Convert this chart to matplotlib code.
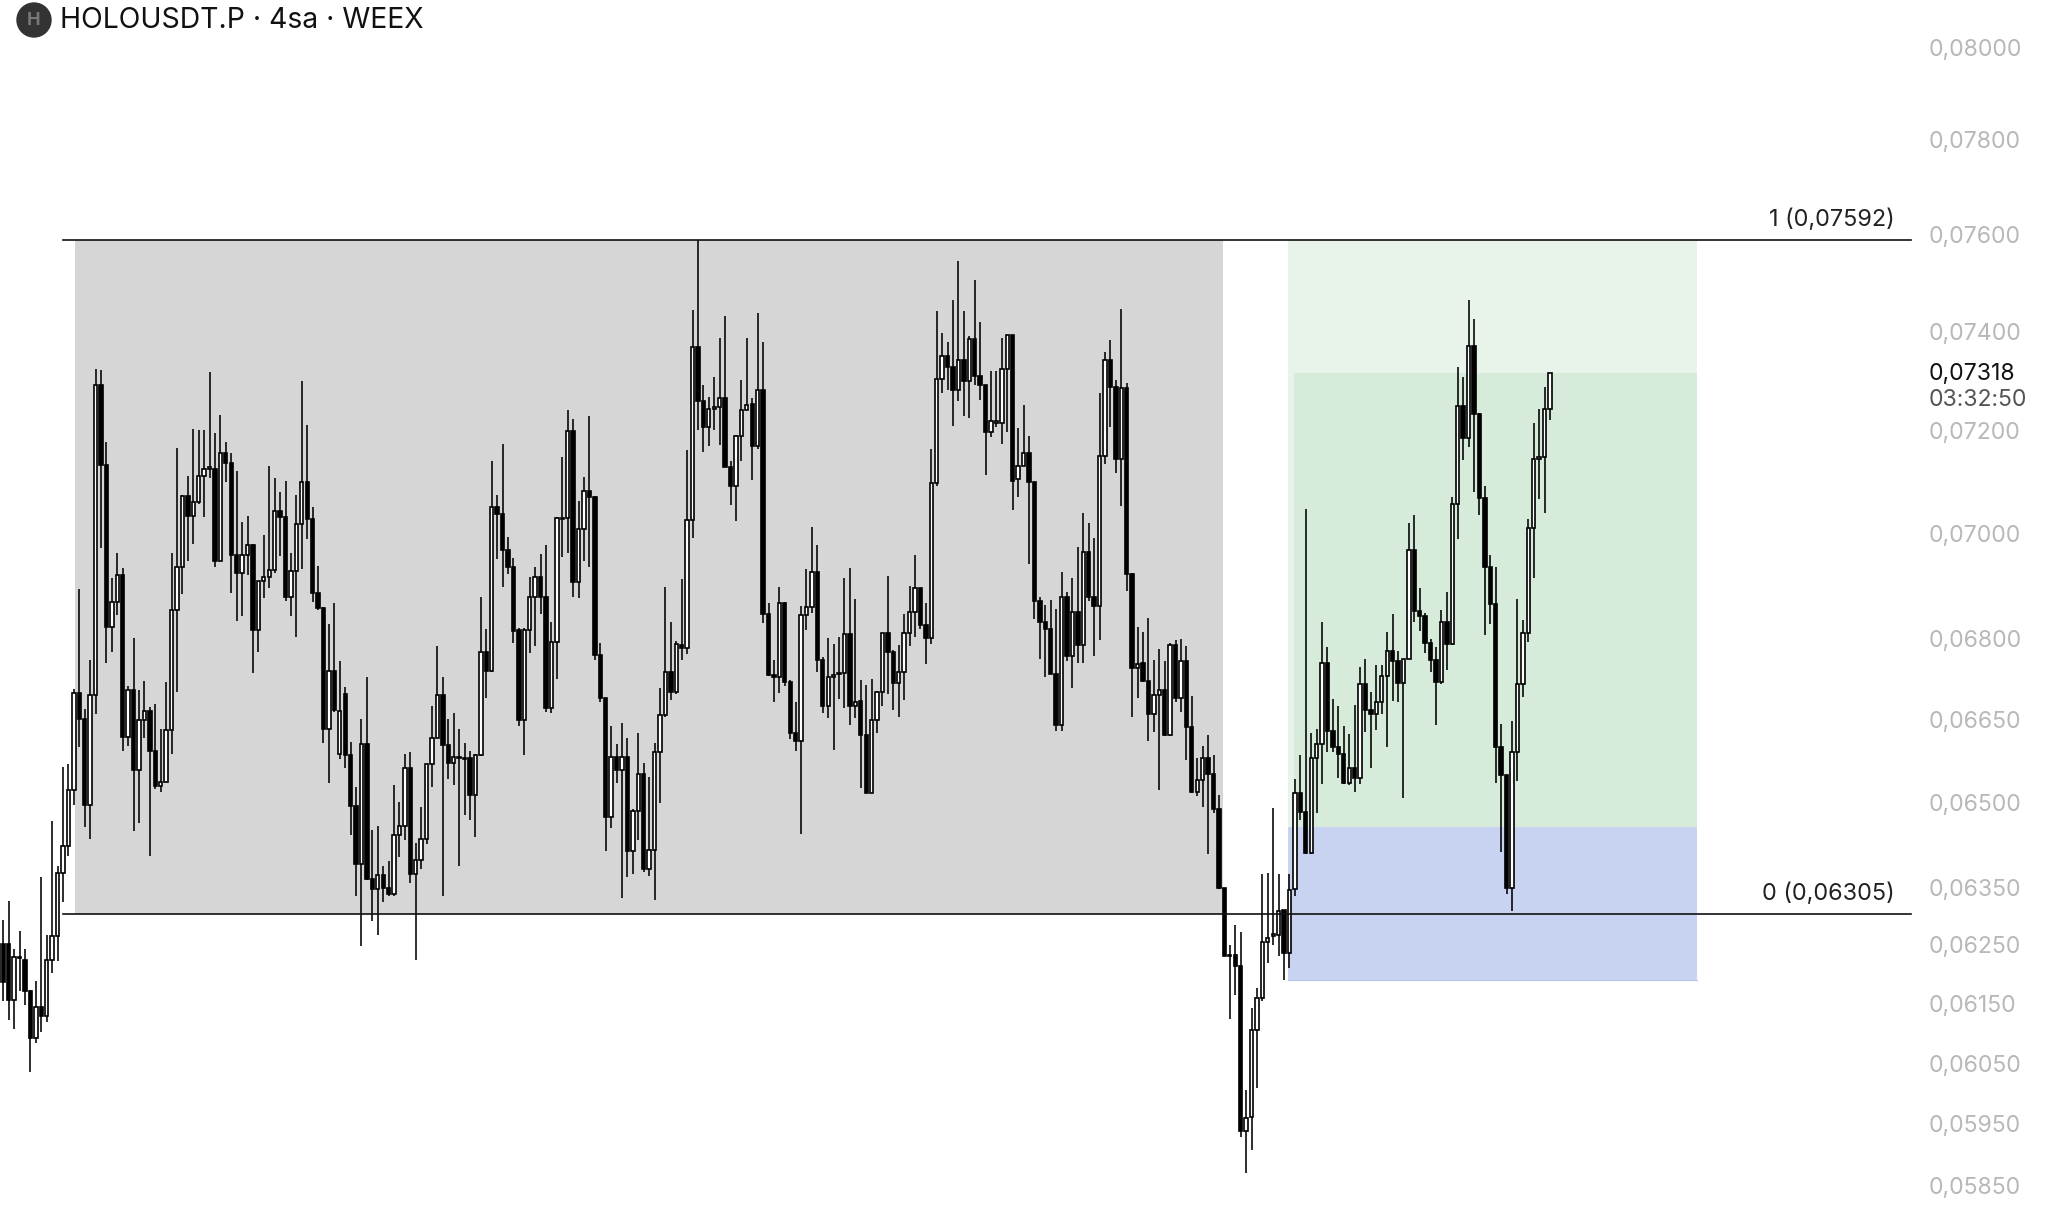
import numpy as np
import matplotlib
matplotlib.use("Agg")
import matplotlib.pyplot as plt
from matplotlib.patches import Ellipse

plt.rcParams['font.family'] = ['Inter', 'DejaVu Sans']

# prices below are in units of 0.00001
opens = [6189,
    6254, 6254, 6159, 6232, 6227, 6174, 6095, 6146, 6131, 6227,
    6268, 6377, 6425, 6524, 6701, 6654, 6498, 6697, 7295, 7136,
    6824, 6872, 6922, 6621, 6706, 6561, 6651, 6668, 6596, 6532,
    6539, 6634, 6856, 6937, 7074, 7036, 7062, 7114, 7128, 7128,
    6950, 7159, 7140, 6960, 6927, 6960, 6979, 6818, 6911, 6918,
    6932, 7046, 7034, 6880, 6931, 7021, 7101, 7030, 6889, 6860,
    6636, 6742, 6590, 6699, 6588, 6496, 6393, 6608, 6367, 6349,
    6374, 6351, 6341, 6445, 6461, 6565, 6376, 6400, 6438, 6571,
    6618, 6698, 6606, 6574, 6585, 6582, 6582, 6515, 6588, 6777,
    6742, 7053, 7040, 6970, 6937, 6819, 6651, 6819, 6881, 6919,
    6881, 6673, 6796, 7030, 7032, 7203, 6910, 7011, 7085, 7072,
    6772, 6692, 6476, 6585, 6560, 6585, 6416, 6488, 6553, 6384,
    6418, 6594, 6660, 6740, 6704, 6790, 6784, 7028, 7370, 7263,
    7210, 7247, 7250, 7268, 7131, 7095, 7192, 7245, 7256, 7172,
    7285, 6848, 6734, 6730, 6870, 6722, 6628, 6614, 6846, 6861,
    6929, 6762, 6678, 6730, 6737, 6738, 6811, 6677, 6687, 6624,
    6520, 6652, 6703, 6813, 6777, 6720, 6740, 6813, 6853, 6897,
    6828, 6803, 7100, 7306, 7353, 7330, 7285, 7344, 7303, 7387,
    7312, 7295, 7201, 7219, 7219, 7326, 7395, 7107, 7133, 7159,
    7101, 6873, 6833, 6820, 6736, 6642, 6881, 6770, 6852, 6791,
    6966, 6881, 6864, 7153, 7345, 7290, 7147, 7289, 6924, 6747,
    6756, 6724, 6662, 6698, 6707, 6625, 6791, 6692, 6760, 6638,
    6522, 6543, 6582, 6553, 6490, 6351, 6235, 6235, 6217, 5940,
    5964, 6107, 6162, 6257, 6268, 6269, 6313, 6238, 6349, 6520,
    6485, 6412, 6583, 6608, 6757, 6631, 6602, 6589, 6538, 6564,
    6546, 6718, 6670, 6662, 6685, 6733, 6780, 6761, 6720, 6765,
    6970, 6855, 6844, 6795, 6763, 6722, 6834, 6793, 7060, 7252,
    7189, 7373, 7236, 7071, 6937, 6867, 6603, 6552, 6351, 6593,
    6718, 6812, 7012, 7148, 7150, 7247]

highs = [6354,
    6295, 6329, 6246, 6276, 6246, 6176, 6191, 6371, 6270, 6470,
    6390, 6566, 6572, 6708, 6895, 6671, 6763, 7326, 7324, 7181,
    6917, 6964, 6936, 6715, 6804, 6706, 6724, 6675, 6681, 6636,
    6721, 6964, 7169, 7076, 7114, 7207, 7204, 7204, 7321, 7199,
    7234, 7180, 7159, 7124, 7025, 7036, 6981, 6911, 6999, 7133,
    7109, 7082, 7103, 6964, 7077, 7302, 7214, 7053, 6939, 6862,
    6830, 6870, 6760, 6712, 6611, 6530, 6654, 6731, 6454, 6461,
    6390, 6398, 6534, 6503, 6589, 6594, 6430, 6494, 6571, 6677,
    6788, 6730, 6654, 6665, 6635, 6609, 6596, 6590, 6881, 6820,
    7144, 7076, 7176, 6996, 6954, 6823, 6823, 6919, 6937, 6962,
    6980, 6833, 7034, 7150, 7245, 7227, 7065, 7111, 7233, 7075,
    6795, 6692, 6641, 6607, 6647, 6619, 6490, 6628, 6573, 6549,
    6609, 6710, 6900, 6833, 6798, 6914, 7164, 7447, 7590, 7295,
    7270, 7310, 7389, 7433, 7144, 7194, 7305, 7390, 7268, 7441,
    7380, 6870, 6763, 6900, 6871, 6726, 6685, 6863, 6934, 7015,
    6980, 6768, 6803, 6792, 6806, 6916, 6935, 6876, 6726, 6716,
    6728, 6705, 6813, 6921, 6781, 6791, 6848, 6901, 6961, 6897,
    6870, 7167, 7444, 7400, 7380, 7466, 7548, 7444, 7393, 7507,
    7422, 7295, 7323, 7323, 7390, 7395, 7395, 7209, 7254, 7193,
    7101, 6881, 6866, 6875, 6858, 6929, 6891, 6916, 6976, 7041,
    7022, 6994, 7278, 7361, 7385, 7305, 7448, 7299, 6927, 6825,
    6814, 6841, 6763, 6783, 6760, 6795, 6800, 6802, 6789, 6696,
    6583, 6604, 6625, 6588, 6515, 6351, 6253, 6287, 6274, 6007,
    6144, 6179, 6375, 6377, 6492, 6375, 6313, 6375, 6545, 6588,
    7050, 6628, 6635, 6834, 6787, 6691, 6677, 6641, 6626, 6680,
    6749, 6765, 6703, 6754, 6753, 6815, 6848, 6779, 6765, 7022,
    7038, 6897, 6850, 6801, 6787, 6856, 6891, 7073, 7330, 7311,
    7467, 7428, 7238, 7095, 6961, 6937, 6644, 6552, 6650, 6876,
    6838, 7030, 7219, 7247, 7291, 7318]

lows = [6150,
    6156, 6125, 6109, 6174, 6150, 6037, 6086, 6105, 6121, 6205,
    6224, 6326, 6408, 6497, 6603, 6458, 6438, 6662, 6975, 6756,
    6778, 6847, 6595, 6605, 6452, 6465, 6618, 6407, 6526, 6521,
    6539, 6590, 6703, 6886, 6950, 6982, 7060, 7034, 7110, 6937,
    6950, 7102, 6889, 6836, 6845, 6923, 6738, 6777, 6878, 6897,
    6926, 6959, 6874, 6845, 6806, 6934, 6991, 6872, 6856, 6610,
    6537, 6667, 6580, 6565, 6445, 6337, 6250, 6365, 6293, 6270,
    6327, 6338, 6338, 6406, 6436, 6360, 6227, 6384, 6428, 6531,
    6618, 6337, 6545, 6534, 6389, 6480, 6472, 6441, 6587, 6692,
    6740, 6953, 6900, 6925, 6794, 6641, 6588, 6775, 6788, 6848,
    6667, 6664, 6728, 6957, 6964, 6880, 6879, 6949, 6937, 6763,
    6684, 6416, 6456, 6537, 6334, 6370, 6375, 6436, 6379, 6373,
    6331, 6501, 6658, 6688, 6699, 6763, 6773, 6994, 7205, 7161,
    7172, 7205, 7175, 7131, 7058, 7027, 7144, 7245, 7106, 7167,
    6832, 6732, 6685, 6701, 6714, 6617, 6595, 6447, 6819, 6850,
    6740, 6664, 6656, 6597, 6691, 6673, 6642, 6656, 6528, 6520,
    6520, 6628, 6677, 6699, 6670, 6658, 6689, 6788, 6805, 6821,
    6755, 6792, 7095, 7279, 7285, 7212, 7263, 7232, 7229, 7295,
    7265, 7115, 7190, 7210, 7176, 7201, 7047, 7073, 7133, 6943,
    6839, 6764, 6730, 6736, 6631, 6631, 6760, 6711, 6757, 6757,
    6873, 6770, 6799, 7137, 7211, 7119, 7055, 6892, 6657, 6692,
    6722, 6614, 6630, 6524, 6623, 6623, 6685, 6666, 6578, 6520,
    6514, 6495, 6411, 6484, 6349, 6233, 6127, 6167, 5931, 5872,
    5909, 6011, 6156, 6222, 6252, 6234, 6192, 6212, 6338, 6472,
    6410, 6410, 6483, 6536, 6594, 6594, 6547, 6536, 6534, 6522,
    6536, 6629, 6564, 6633, 6662, 6602, 6687, 6685, 6511, 6765,
    6834, 6817, 6775, 6741, 6643, 6718, 6743, 6790, 6991, 7145,
    7170, 7083, 7037, 6809, 6830, 6538, 6415, 6340, 6311, 6541,
    6693, 6796, 6917, 7068, 7042, 7224]

closes = [6254,
    6189, 6159, 6232, 6230, 6174, 6095, 6146, 6131, 6227, 6268,
    6377, 6425, 6524, 6701, 6654, 6498, 6697, 7295, 7136, 6824,
    6872, 6922, 6621, 6706, 6561, 6651, 6668, 6596, 6532, 6539,
    6634, 6856, 6937, 7074, 7036, 7062, 7114, 7128, 7131, 6950,
    7159, 7140, 6960, 6927, 6960, 6979, 6818, 6911, 6918, 6932,
    7046, 7034, 6880, 6931, 7021, 7101, 7030, 6889, 6860, 6636,
    6742, 6670, 6669, 6588, 6496, 6393, 6608, 6367, 6349, 6374,
    6351, 6341, 6445, 6461, 6565, 6376, 6400, 6438, 6571, 6618,
    6698, 6606, 6574, 6585, 6582, 6580, 6515, 6588, 6777, 6742,
    7053, 7040, 6970, 6937, 6817, 6651, 6819, 6881, 6919, 6881,
    6673, 6796, 7032, 7032, 7203, 6910, 7011, 7085, 7072, 6772,
    6692, 6476, 6585, 6560, 6585, 6416, 6488, 6553, 6384, 6418,
    6594, 6660, 6740, 6704, 6793, 6784, 7028, 7370, 7263, 7210,
    7247, 7250, 7268, 7131, 7095, 7192, 7245, 7254, 7172, 7285,
    6848, 6734, 6730, 6870, 6722, 6628, 6614, 6846, 6861, 6929,
    6762, 6678, 6730, 6734, 6738, 6811, 6677, 6685, 6624, 6520,
    6652, 6703, 6813, 6777, 6720, 6740, 6813, 6853, 6897, 6828,
    6803, 7100, 7306, 7353, 7330, 7285, 7344, 7303, 7387, 7312,
    7295, 7201, 7223, 7223, 7326, 7395, 7104, 7133, 7159, 7101,
    6873, 6833, 6820, 6736, 6642, 6881, 6770, 6852, 6791, 6966,
    6881, 6864, 7153, 7345, 7290, 7147, 7289, 6924, 6747, 6755,
    6724, 6662, 6698, 6707, 6625, 6791, 6692, 6760, 6638, 6522,
    6542, 6582, 6553, 6490, 6351, 6233, 6233, 6217, 5940, 5962,
    6107, 6162, 6257, 6265, 6271, 6311, 6238, 6347, 6520, 6485,
    6412, 6583, 6608, 6757, 6631, 6602, 6589, 6538, 6564, 6546,
    6718, 6670, 6662, 6685, 6733, 6780, 6761, 6720, 6765, 6970,
    6855, 6844, 6795, 6763, 6722, 6834, 6793, 7060, 7252, 7189,
    7373, 7236, 7071, 6937, 6867, 6603, 6552, 6351, 6593, 6718,
    6812, 7012, 7148, 7150, 7247, 7318]

tick_prices = [0.08, 0.078, 0.076, 0.074, 0.072, 0.07, 0.068, 0.0665, 0.065,
               0.0635, 0.0625, 0.0615, 0.0605, 0.0595, 0.0585]

title = "HOLOUSDT.P · 4sa · WEEX"
last_price = 0.07318
countdown = "03:32:50"

# fib channel levels and the long position drawn on the chart
fib_top = 0.07592
fib_bottom = 0.06305
position_entry = 0.06459
position_target = 0.07592
position_current = 0.07318
position_stop = 0.06192

W, H = 2048, 1223
PX_PER_BAR = 5.427
FIRST_BAR_PX = 3.3

unit = 1e-5
o = np.array(opens) * unit
h = np.array(highs) * unit
l = np.array(lows) * unit
c = np.array(closes) * unit
xs = np.arange(len(c)) - 1


def fmt_price(v):
    return f"{v:.5f}".replace(".", ",")


fig = plt.figure(figsize=(W / 100, H / 100), dpi=100, facecolor="white")
ax = fig.add_axes([0, 0, 1, 1])
ax.set_yscale("log")
ax.set_xlim(-FIRST_BAR_PX / PX_PER_BAR, (W - FIRST_BAR_PX) / PX_PER_BAR)
ax.set_ylim(0.057918, 0.081093)
ax.axis("off")

# shaded zones, x given in bars
ax.fill_between([13.2, 224.7], fib_bottom, fib_top, color="#d6d6d6", lw=0, zorder=1)
ax.fill_between([236.8, 312.1], position_entry, position_target, color="#e8f4ea", lw=0, zorder=1)
ax.fill_between([237.8, 312.1], position_entry, position_current, color="#d7ebdb", lw=0, zorder=1.1)
ax.fill_between([236.8, 312.1], position_stop, position_entry, color="#c8d3f1", lw=0, zorder=1)
ax.plot([236.8, 312.1], [position_stop, position_stop], color="#b4c3ea", lw=0.8, zorder=1.2)

# candles
up = c >= o
ax.vlines(xs, l, h, color="black", lw=1.15, zorder=3)
body_w = 0.62
ax.bar(xs[up], (c - o)[up], bottom=o[up], width=body_w, color="white", edgecolor="black", lw=1.2, zorder=4)
ax.bar(xs[~up], (o - c)[~up], bottom=c[~up], width=body_w, color="black", edgecolor="black", lw=1.2, zorder=4)

# fib lines
ax.plot([10.95, 351.5], [fib_top, fib_top], color="#111111", lw=1.2, zorder=5)
ax.plot([10.95, 351.5], [fib_bottom, fib_bottom], color="#111111", lw=1.2, zorder=5)
fig.text(1895 / W, 1 - 220 / H, "1 (" + fmt_price(fib_top) + ")", ha="right", va="center", fontsize=16.9, color="#222222")
fig.text(1895 / W, 1 - 894 / H, "0 (" + fmt_price(fib_bottom) + ")", ha="right", va="center", fontsize=16.9, color="#222222")

# price scale, text sits about 1px under the tick position
for p in tick_prices:
    ax.annotate(fmt_price(p), xy=(1929 / W, p), xycoords=ax.get_yaxis_transform(), xytext=(0, -0.8),
                textcoords="offset points", ha="left", va="center", fontsize=16.6, color="#b8b8b8")
ax.annotate(fmt_price(last_price), xy=(1929 / W, last_price), xycoords=ax.get_yaxis_transform(), xytext=(0, -0.8),
            textcoords="offset points", ha="left", va="center", fontsize=16.6, color="#111111")
fig.text(1929 / W, 1 - 399.5 / H, countdown, ha="left", va="center", fontsize=16.6, color="#555555")

# header
fig.add_artist(Ellipse((34 / W, 1 - 20 / H), 34 / W, 34 / H, color="#333333"))
fig.text(34 / W, 1 - 20.5 / H, "H", ha="center", va="center", fontsize=13, color="#777777", fontweight="bold")
fig.text(60 / W, 1 - 21 / H, title, ha="left", va="center", fontsize=20.4, color="#111111")

fig.savefig("out.png", dpi=100)
